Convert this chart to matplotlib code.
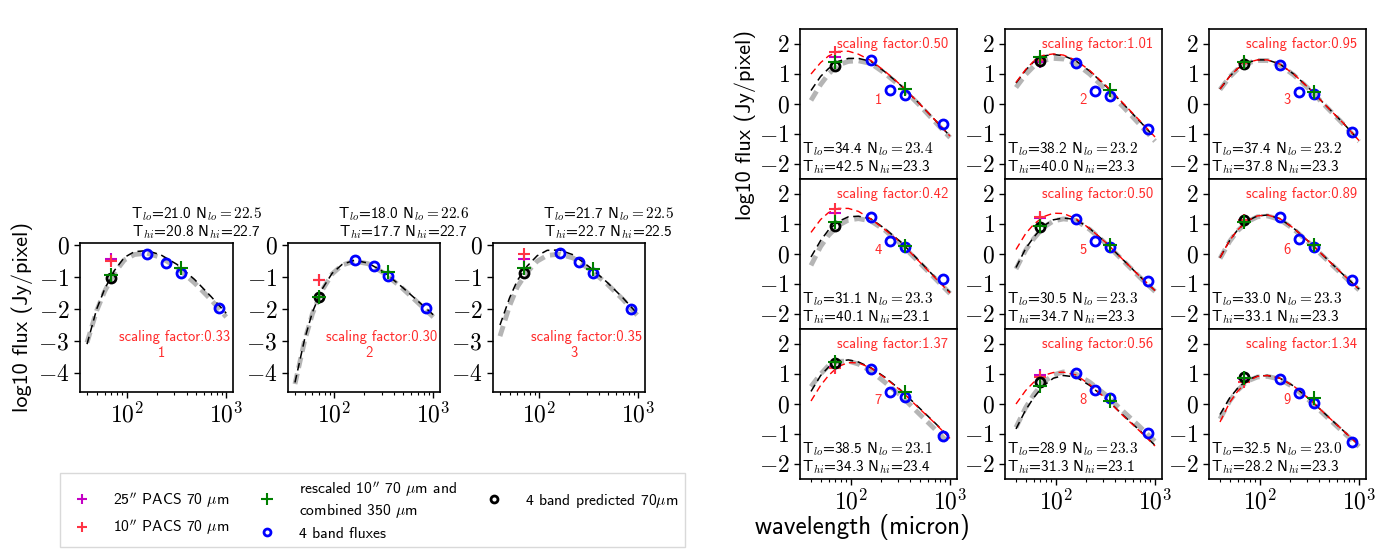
import math
import matplotlib
matplotlib.use('Agg')
import matplotlib.pyplot as plt
from matplotlib.ticker import FixedLocator, FuncFormatter, LogLocator, NullFormatter
from matplotlib.lines import Line2D

plt.rcParams['font.family'] = ['cmss10', 'DejaVu Sans']
plt.rcParams['mathtext.fontset'] = 'cm'
plt.rcParams['axes.unicode_minus'] = False

# ---------------- data ----------------
WL = [40, 50, 60, 75, 95, 120, 160, 220, 320, 480, 700, 1000]
BANDS = [160, 250, 350, 850]
W70 = 70
W350 = 350

# left panels (fit curves)
L1_black = [-3.1, -2.0, -1.38, -0.8, -0.38, -0.2, -0.17, -0.3, -0.6, -1.07, -1.6, -2.13]
L1_gray = [-3.05, -2.05, -1.45, -0.88, -0.46, -0.29, -0.25, -0.38, -0.7, -1.18, -1.7, -2.25]
L2_black = [-4.3, -2.95, -2.1, -1.38, -0.88, -0.6, -0.47, -0.56, -0.85, -1.3, -1.75, -2.18]
L2_gray = [-4.35, -3.0, -2.15, -1.42, -0.9, -0.62, -0.5, -0.58, -0.88, -1.33, -1.8, -2.25]
L3_black = [-2.5, -1.65, -1.1, -0.66, -0.33, -0.16, -0.15, -0.3, -0.68, -1.15, -1.65, -2.18]
L3_gray = [-2.85, -1.9, -1.3, -0.85, -0.5, -0.32, -0.28, -0.4, -0.75, -1.2, -1.7, -2.23]

L_mag70 = [-0.43, -1.1, -0.44]
L_red70 = [-0.5, -1.1, -0.26]
L_green70 = [-0.92, -1.61, -0.72]
L_green350 = [-0.72, -0.83, -0.75]
L_pred70 = [-1.02, -1.63, -0.88]
L_blue = [[-0.27, -0.55, -0.88, -1.98],
          [-0.47, -0.64, -0.97, -1.97],
          [-0.23, -0.54, -0.86, -2.0]]
L_scale = ["0.33", "0.30", "0.35"]
L_Tlo = ["21.0", "18.0", "21.7"]
L_Nlo = ["22.5", "22.6", "22.5"]
L_Thi = ["20.8", "17.7", "22.7"]
L_Nhi = ["22.7", "22.7", "22.5"]

# right panels (fit curves)
R1_red = [1.0, 1.38, 1.6, 1.75, 1.76, 1.66, 1.45, 1.1, 0.63, 0.05, -0.52, -1.07]
R1_black = [0.45, 0.92, 1.18, 1.42, 1.52, 1.52, 1.42, 1.08, 0.62, 0.05, -0.52, -1.07]
R1_gray = [0.12, 0.65, 1.0, 1.3, 1.42, 1.44, 1.35, 1.03, 0.58, 0.0, -0.58, -1.12]
R2_red = [0.72, 1.15, 1.42, 1.62, 1.67, 1.63, 1.46, 1.12, 0.62, 0.02, -0.55, -1.1]
R2_black = [0.7, 1.13, 1.4, 1.6, 1.65, 1.61, 1.44, 1.1, 0.6, 0.0, -0.57, -1.12]
R2_gray = [0.55, 0.98, 1.25, 1.45, 1.52, 1.5, 1.35, 1.0, 0.48, -0.1, -0.68, -1.24]
R3_red = [0.5, 0.92, 1.18, 1.38, 1.47, 1.47, 1.33, 1.0, 0.5, -0.1, -0.65, -1.22]
R3_black = [0.5, 0.92, 1.18, 1.38, 1.47, 1.47, 1.33, 1.0, 0.5, -0.1, -0.65, -1.22]
R3_gray = [0.48, 0.9, 1.16, 1.36, 1.45, 1.45, 1.3, 0.97, 0.47, -0.13, -0.68, -1.25]
R4_red = [0.72, 1.15, 1.38, 1.52, 1.52, 1.42, 1.17, 0.82, 0.38, -0.22, -0.78, -1.3]
R4_black = [-0.1, 0.45, 0.8, 1.08, 1.24, 1.26, 1.17, 0.85, 0.4, -0.2, -0.76, -1.28]
R4_gray = [-0.38, 0.25, 0.62, 0.95, 1.13, 1.18, 1.1, 0.8, 0.33, -0.25, -0.8, -1.32]
R5_red = [0.15, 0.68, 0.98, 1.24, 1.36, 1.35, 1.18, 0.85, 0.38, -0.2, -0.74, -1.22]
R5_black = [-0.45, 0.18, 0.55, 0.93, 1.14, 1.2, 1.15, 0.85, 0.38, -0.2, -0.74, -1.22]
R5_gray = [-0.5, 0.13, 0.5, 0.88, 1.1, 1.17, 1.12, 0.82, 0.35, -0.23, -0.77, -1.25]
R6_red = [-0.12, 0.45, 0.8, 1.1, 1.27, 1.3, 1.18, 0.86, 0.38, -0.18, -0.7, -1.17]
R6_black = [-0.12, 0.45, 0.8, 1.1, 1.27, 1.3, 1.18, 0.86, 0.38, -0.18, -0.7, -1.17]
R6_gray = [-0.15, 0.42, 0.77, 1.07, 1.24, 1.27, 1.15, 0.83, 0.35, -0.21, -0.73, -1.2]
R7_red = [0.1, 0.62, 0.95, 1.25, 1.38, 1.37, 1.2, 0.88, 0.45, -0.12, -0.63, -1.15]
R7_black = [0.42, 0.95, 1.23, 1.42, 1.47, 1.4, 1.21, 0.9, 0.46, -0.1, -0.62, -1.13]
R7_gray = [0.58, 1.0, 1.28, 1.42, 1.43, 1.33, 1.1, 0.73, 0.28, -0.3, -0.83, -1.35]
R8_red = [0.0, 0.45, 0.72, 0.95, 1.05, 1.06, 0.97, 0.65, 0.18, -0.4, -0.9, -1.4]
R8_black = [-0.83, -0.2, 0.2, 0.6, 0.86, 0.95, 0.9, 0.62, 0.18, -0.38, -0.88, -1.38]
R8_gray = [-0.78, -0.12, 0.3, 0.72, 0.97, 1.07, 1.0, 0.73, 0.3, -0.25, -0.75, -1.25]
R9_red = [-0.6, 0.05, 0.42, 0.75, 0.92, 0.95, 0.86, 0.6, 0.15, -0.4, -0.9, -1.38]
R9_black = [-0.35, 0.2, 0.52, 0.8, 0.93, 0.95, 0.86, 0.6, 0.15, -0.4, -0.9, -1.38]
R9_gray = [-0.5, 0.1, 0.45, 0.76, 0.9, 0.92, 0.83, 0.56, 0.1, -0.45, -0.95, -1.42]

R_mag70 = [1.57, 1.4, 1.38, 1.37, 1.2, 1.15, 1.25, 0.98, 0.85]
R_red70 = [1.72, 1.48, 1.38, 1.5, 1.22, 1.12, 1.2, 0.9, 0.72]
R_green70 = [1.4, 1.57, 1.39, 1.08, 0.92, 1.07, 1.39, 0.61, 0.88]
R_green350 = [0.5, 0.48, 0.39, 0.26, 0.3, 0.31, 0.4, 0.11, 0.2]
R_pred70 = [1.26, 1.42, 1.33, 0.95, 0.89, 1.12, 1.36, 0.74, 0.9]
R_blue = [[1.48, 0.47, 0.3, -0.65],
          [1.38, 0.42, 0.28, -0.83],
          [1.31, 0.41, 0.35, -0.94],
          [1.22, 0.44, 0.24, -0.83],
          [1.17, 0.44, 0.24, -0.9],
          [1.22, 0.5, 0.22, -0.86],
          [1.18, 0.4, 0.23, -1.08],
          [1.02, 0.48, 0.19, -0.98],
          [0.83, 0.37, 0.03, -1.27]]
R_scale = ["0.50", "1.01", "0.95", "0.42", "0.50", "0.89", "1.37", "0.56", "1.34"]
R_Tlo = ["34.4", "38.2", "37.4", "31.1", "30.5", "33.0", "38.5", "28.9", "32.5"]
R_Nlo = ["23.4", "23.2", "23.2", "23.3", "23.3", "23.3", "23.1", "23.3", "23.0"]
R_Thi = ["42.5", "40.0", "37.8", "40.1", "34.7", "33.1", "34.3", "31.3", "28.2"]
R_Nhi = ["23.3", "23.3", "23.3", "23.1", "23.3", "23.3", "23.4", "23.1", "23.3"]

L_black = [L1_black, L2_black, L3_black]
L_gray = [L1_gray, L2_gray, L3_gray]
R_red = [R1_red, R2_red, R3_red, R4_red, R5_red, R6_red, R7_red, R8_red, R9_red]
R_black = [R1_black, R2_black, R3_black, R4_black, R5_black, R6_black, R7_black, R8_black, R9_black]
R_gray = [R1_gray, R2_gray, R3_gray, R4_gray, R5_gray, R6_gray, R7_gray, R8_gray, R9_gray]

# ---------------- style ----------------
C_MAG = '#c400c4'
C_RED = '#ff3344'
C_GREEN = '#008000'
C_BLUE = '#0000ff'
C_GRAY = '#b5b5b5'
C_TXT_RED = '#ff2a2a'
TICK_FS = 17

W, H = 1400, 549
fig = plt.figure(figsize=(W / 100, H / 100), dpi=100)


def px_axes(left, right, top, bottom):
    return fig.add_axes([left / W, 1 - bottom / H, (right - left) / W, (bottom - top) / H])


def style_axes(ax, xlim, ylim, yticks, xlabels=True):
    ax.set_xscale('log')
    ax.set_xlim(*xlim)
    ax.set_ylim(*ylim)
    ax.xaxis.set_major_locator(FixedLocator([100, 1000]))
    ax.xaxis.set_major_formatter(FuncFormatter(lambda v, p: r'$10^{%d}$' % round(math.log10(v))))
    ax.xaxis.set_minor_locator(LogLocator(base=10, subs=[2, 3, 4, 5, 6, 7, 8, 9], numticks=20))
    ax.xaxis.set_minor_formatter(NullFormatter())
    ax.yaxis.set_major_locator(FixedLocator(yticks))
    ax.yaxis.set_major_formatter(FuncFormatter(lambda v, p: r'$%d$' % int(round(v))))
    ax.tick_params(axis='both', which='major', labelsize=TICK_FS, length=4, width=1, direction='out')
    ax.tick_params(axis='x', which='minor', length=2.5, width=0.8, direction='out')
    ax.tick_params(top=False, right=False)
    if not xlabels:
        ax.tick_params(axis='x', which='both', labelbottom=False, length=0)
    for s in ax.spines.values():
        s.set_linewidth(1.2)


def draw_points(ax, mag, red, green70, green350, pred, blue):
    ax.plot([W70], [mag], ls='none', marker='+', ms=9, mew=1.5, color=C_MAG, zorder=4)
    ax.plot([W70], [red], ls='none', marker='+', ms=9, mew=1.5, color=C_RED, zorder=4)
    ax.plot([W70], [pred], ls='none', marker='o', ms=6.5, mew=2, mfc='none', mec='k', zorder=5)
    ax.plot(BANDS, blue, ls='none', marker='o', ms=6.5, mew=2, mfc='none', mec=C_BLUE, zorder=5)
    ax.plot([W70, W350], [green70, green350], ls='none', marker='+', ms=10, mew=1.5, color=C_GREEN, zorder=6)


# ---------------- left panels ----------------
left_px = [(80, 233), (288, 440), (493, 645)]
for i, (l, r) in enumerate(left_px):
    ax = px_axes(l, r, 243, 392)
    ax.plot(WL, L_gray[i], color=C_GRAY, lw=3.5, ls=(0, (2.2, 1.2)), zorder=2)
    ax.plot(WL, L_black[i], color='k', lw=1.1, ls=(0, (5, 3)), zorder=3)
    draw_points(ax, L_mag70[i], L_red70[i], L_green70[i], L_green350[i], L_pred70[i], L_blue[i])
    style_axes(ax, (34, 1170), (-4.6, 0.07), [0, -1, -2, -3, -4])
    ax.text(0.98, 0.37, 'scaling factor:' + L_scale[i], transform=ax.transAxes,
            ha='right', va='center', color=C_TXT_RED, fontsize=10.5)
    ax.text(0.53, 0.26, str(i + 1), transform=ax.transAxes,
            ha='center', va='center', color=C_TXT_RED, fontsize=10.5)
    ax.text(0.76, 1.168, r'T$_{lo}$=%s N$_{lo}=%s$' % (L_Tlo[i], L_Nlo[i]), transform=ax.transAxes,
            ha='center', va='baseline', fontsize=11)
    ax.text(0.76, 1.047, r'T$_{hi}$=%s N$_{hi}$=%s' % (L_Thi[i], L_Nhi[i]), transform=ax.transAxes,
            ha='center', va='baseline', fontsize=11)

fig.text(22 / W, 1 - 317 / H, 'log10 flux (Jy/pixel)', rotation=90, ha='center', va='center', fontsize=16)

# ---------------- right 3x3 grid ----------------
col_px = [(800, 957), (1005, 1162), (1209, 1366)]
row_px = [(29, 179), (179, 329), (329, 479)]
for k in range(9):
    rr, cc = divmod(k, 3)
    l, r = col_px[cc]
    t, b = row_px[rr]
    ax = px_axes(l, r, t, b)
    ax.plot(WL, R_gray[k], color=C_GRAY, lw=3.5, ls=(0, (2.2, 1.2)), zorder=2)
    ax.plot(WL, R_black[k], color='k', lw=1.1, ls=(0, (5, 3)), zorder=3)
    ax.plot(WL, R_red[k], color='red', lw=1.0, ls=(0, (5, 3)), zorder=3.5)
    draw_points(ax, R_mag70[k], R_red70[k], R_green70[k], R_green350[k], R_pred70[k], R_blue[k])
    style_axes(ax, (31, 1175), (-2.5, 2.5), [2, 1, 0, -1, -2], xlabels=(rr == 2))
    ax.text(0.945, 0.9, 'scaling factor:' + R_scale[k], transform=ax.transAxes,
            ha='right', va='center', color=C_TXT_RED, fontsize=10.5)
    ax.text(190, 0.12, str(k + 1), ha='center', va='center', color=C_TXT_RED, fontsize=10.5)
    ax.text(0.013, 0.169, r'T$_{lo}$=%s N$_{lo}=%s$' % (R_Tlo[k], R_Nlo[k]), transform=ax.transAxes,
            ha='left', va='baseline', fontsize=11)
    ax.text(0.013, 0.053, r'T$_{hi}$=%s N$_{hi}$=%s' % (R_Thi[k], R_Nhi[k]), transform=ax.transAxes,
            ha='left', va='baseline', fontsize=11)

fig.text(745 / W, 1 - 125 / H, 'log10 flux (Jy/pixel)', rotation=90, ha='center', va='center', fontsize=16)
fig.text(862 / W, 1 - 527 / H, 'wavelength (micron)', ha='center', va='center', fontsize=18)

# ---------------- legend ----------------
handles = [
    Line2D([], [], ls='none', marker='+', ms=7, mew=1.5, color=C_MAG),
    Line2D([], [], ls='none', marker='+', ms=7, mew=1.5, color=C_RED),
    Line2D([], [], ls='none', marker='+', ms=8, mew=1.5, color=C_GREEN),
    Line2D([], [], ls='none', marker='o', ms=5, mew=2, mfc='none', mec=C_BLUE),
    Line2D([], [], ls='none', marker='o', ms=5, mew=2, mfc='none', mec='k'),
]
labels = [
    r"25$''$ PACS 70 $\mu$m",
    r"10$''$ PACS 70 $\mu$m",
    "rescaled 10$''$ 70 $\\mu$m and\ncombined 350 $\\mu$m",
    "4 band fluxes",
    r"4 band predicted 70$\mu$m",
]
leg = fig.legend(handles, labels, loc='center', ncol=3, mode='expand',
                 bbox_to_anchor=(55 / W, 1 - 543 / H, 635 / W, 66 / H),
                 fontsize=11.3, frameon=True, fancybox=False, edgecolor='#d0d0d0',
                 handletextpad=1.0, borderaxespad=0.3, labelspacing=0.45, numpoints=1)
leg.get_frame().set_linewidth(1.0)

fig.savefig('out.png', dpi=100)
